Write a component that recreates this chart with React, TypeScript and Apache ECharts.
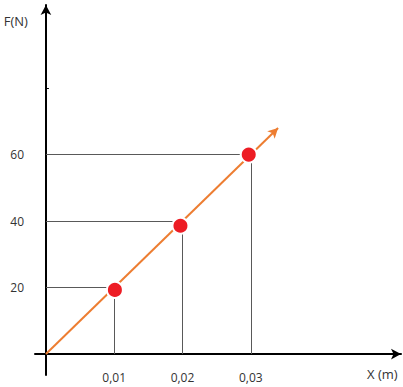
import React, { useEffect, useRef } from "react";
import * as echarts from "echarts";

// Tick positions (values shown on the axes)
const xTicks = [0.01, 0.02, 0.03];
const yTicks = [20, 40, 60];
const yMinorTick = [80];
// Measured dot positions
const dotX = [0.0101, 0.0197, 0.0297];
const dotY = [19.3, 38.6, 60.0];
// Orange trend arrow: from origin to end point
const trendStart = [0, 0];
const trendEnd = [0.034, 68];

export default function App() {
  const ref = useRef<HTMLDivElement>(null);
  useEffect(() => {
    const chart = echarts.init(ref.current!, null, { renderer: "svg" });
    const font = "'Open Sans', sans-serif";
    const dropLines: any[] = [];
    xTicks.forEach((x, i) => {
      const y = yTicks[i];
      dropLines.push([{ coord: [0, y] }, { coord: [dotX[i], y] }]);
      dropLines.push([{ coord: [x, dotY[i]] }, { coord: [x, 0] }]);
    });
    chart.setOption({
      animation: false,
      grid: {
        left: 35,
        right: 2,
        top: 5,
        bottom: 12,
        containLabel: false,
        outerBoundsMode: "none",
      },
      xAxis: {
        type: "value",
        min: -0.0016,
        max: 0.052,
        name: "X (m)",
        nameLocation: "end",
        nameGap: -34,
        nameTextStyle: {
          fontFamily: font,
          fontSize: 13,
          color: "#333",
          verticalAlign: "top",
          padding: [13, 0, 0, 0],
        },
        splitLine: { show: false },
        axisLine: {
          onZero: true,
          symbol: ["none", "arrow"],
          symbolSize: [8, 10],
          lineStyle: { color: "#000", width: 2 },
        },
        axisTick: { show: false },
        axisLabel: {
          customValues: xTicks,
          formatter: (v: number) => v.toFixed(2).replace(".", ","),
          fontFamily: font,
          fontSize: 12,
          color: "#333",
          margin: -4,
        },
      },
      yAxis: {
        type: "value",
        min: -6.3,
        max: 105,
        name: "F(N)",
        nameLocation: "end",
        nameGap: -22,
        nameTextStyle: {
          fontFamily: font,
          fontSize: 13,
          color: "#333",
          align: "right",
          padding: [0, 18, 0, 0],
        },
        splitLine: { show: false },
        axisLine: {
          onZero: true,
          symbol: ["none", "arrow"],
          symbolSize: [8, 10],
          lineStyle: { color: "#000", width: 2 },
        },
        axisTick: {
          show: true,
          customValues: yMinorTick,
          inside: true,
          length: 3,
          lineStyle: { color: "#000", width: 1 },
        },
        axisLabel: {
          customValues: yTicks,
          fontFamily: font,
          fontSize: 12,
          color: "#333",
          margin: 11,
        },
      },
      series: [
        {
          type: "line",
          data: [],
          silent: true,
          markLine: {
            silent: true,
            symbol: ["none", "arrow"],
            symbolSize: [8, 10],
            label: { show: false },
            lineStyle: { color: "#ED7D31", width: 2, type: "solid" },
            data: [[{ coord: trendStart }, { coord: trendEnd }]],
          },
        },
        {
          type: "line",
          data: [],
          silent: true,
          markLine: {
            silent: true,
            symbol: ["none", "none"],
            label: { show: false },
            lineStyle: { color: "#595959", width: 1, type: "solid" },
            data: dropLines,
          },
        },
        {
          type: "scatter",
          data: dotX.map((x, i) => [x, dotY[i]]),
          symbolSize: 16,
          itemStyle: { color: "#ED1C24", borderColor: "#fff", borderWidth: 2, opacity: 1 },
          z: 5,
        },
      ],
    });
    return () => chart.dispose();
  }, []);
  return (
    <div
      ref={ref}
      style={{ position: "fixed", left: 0, top: 0, width: 403, height: 387, background: "#fff" }}
    />
  );
}
